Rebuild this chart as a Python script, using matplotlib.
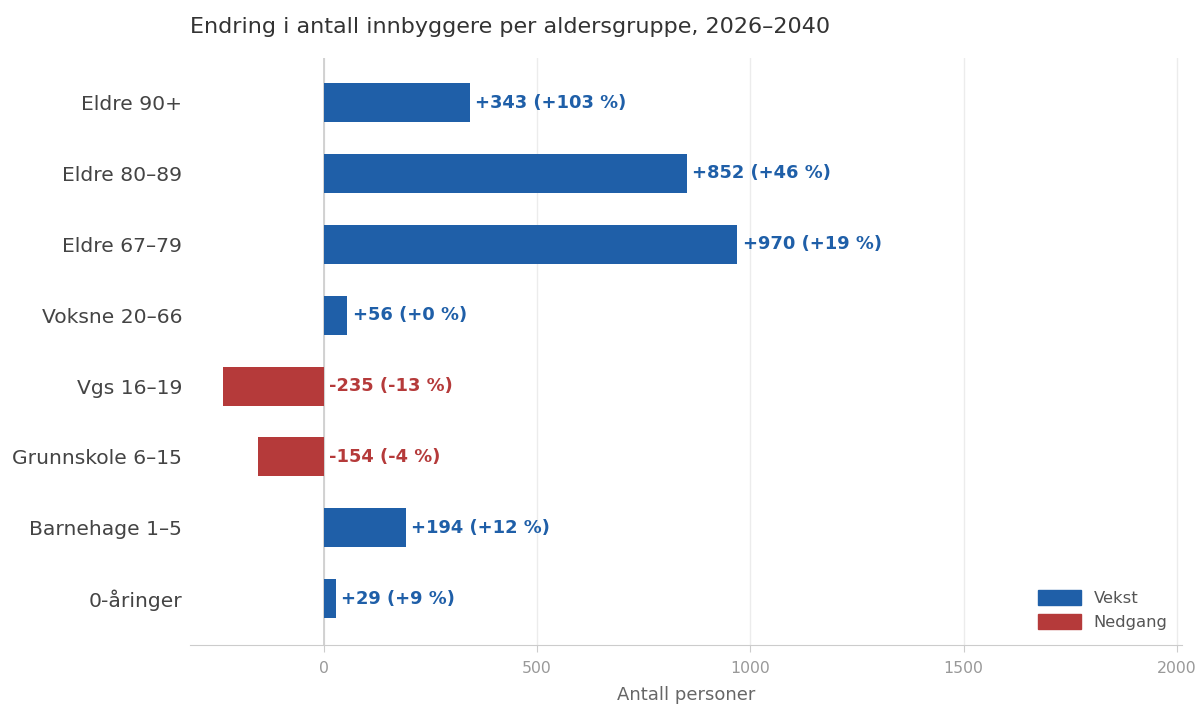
import numpy as np
import matplotlib.pyplot as plt
from matplotlib.patches import Patch

groups = ["0-åringer", "Barnehage 1–5", "Grunnskole 6–15", "Vgs 16–19",
          "Voksne 20–66", "Eldre 67–79", "Eldre 80–89", "Eldre 90+"]
change = [29, 194, -154, -235, 56, 970, 852, 343]
pct = [9, 12, -4, -13, 0, 19, 46, 103]

BLUE = "#1f5fa8"
RED = "#b53a3a"

fig, ax = plt.subplots(figsize=(11.98, 7.07), dpi=100)
fig.subplots_adjust(left=0.159, right=0.987, top=0.918, bottom=0.088)

y = np.arange(len(groups))
colors = [BLUE if v >= 0 else RED for v in change]
ax.barh(y, change, height=0.55, color=colors, zorder=3)

for yi, v, p, c in zip(y, change, pct, colors):
    sign = "+" if v >= 0 else ""
    psign = "+" if p >= 0 else ""
    xpos = max(v, 0) + 12
    ax.text(xpos, yi, f"{sign}{v} ({psign}{p} %)", va="center", ha="left",
            fontsize=12.9, fontweight="bold", color=c, zorder=4)

ax.set_yticks(y)
ax.set_yticklabels(groups, fontsize=14.6, color="#444444")
ax.tick_params(axis="y", length=0, pad=6)
ax.set_xlim(-312, 2013)
ax.set_ylim(-0.65, 7.63)
ax.set_xticks([0, 500, 1000, 1500, 2000])
ax.tick_params(axis="x", colors="#cccccc", labelcolor="#999999", labelsize=11.3, length=5, pad=7)

ax.grid(axis="x", color="#ececec", linewidth=1, zorder=0)
ax.axvline(0, color="#cccccc", linewidth=1.2, zorder=2)
for s in ["left", "right", "top"]:
    ax.spines[s].set_visible(False)
ax.spines["bottom"].set_color("#cccccc")

ax.set_xlabel("Antall personer", fontsize=13, color="#666666", labelpad=7)
ax.set_title("Endring i antall innbyggere per aldersgruppe, 2026–2040",
             loc="left", fontsize=16, color="#333333", pad=18)

handles = [Patch(color=BLUE, label="Vekst"), Patch(color=RED, label="Nedgang")]
ax.legend(handles=handles, loc="lower right", frameon=False, fontsize=11.8,
          labelcolor="#555555", handlelength=2.6, handleheight=1.0)

fig.savefig("out.png")
